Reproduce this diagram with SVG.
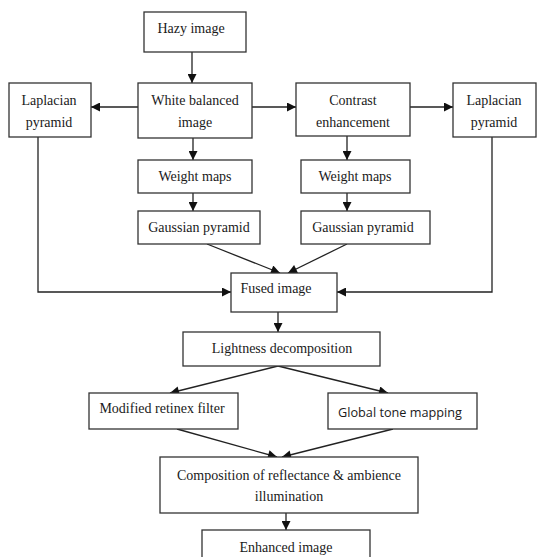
<svg xmlns="http://www.w3.org/2000/svg" width="537" height="557" viewBox="0 0 537 557">
<style>
.box{fill:#fff;stroke:#333;stroke-width:1.3}
.t{font-family:"Liberation Serif","Times New Roman",serif;font-size:14px;fill:#1a1a1a;text-anchor:middle}
.s{font-family:"Open Sans","Noto Sans",sans-serif;font-size:13px;fill:#1a1a1a;text-anchor:middle}
.c{fill:none;stroke:#222;stroke-width:1.3}
</style>
<defs>
<marker id="ah" viewBox="0 0 10 10" refX="10" refY="5" markerWidth="10" markerHeight="9" markerUnits="userSpaceOnUse" orient="auto">
<path d="M0,0 L10,5 L0,10 z" fill="#111"/>
</marker>
</defs>
<rect width="537" height="557" fill="#fff"/>
<g id="connectors">
<line class="c" x1="192" y1="52" x2="192" y2="83" marker-end="url(#ah)"/>
<line class="c" x1="138" y1="107" x2="91" y2="107" marker-end="url(#ah)"/>
<line class="c" x1="252" y1="107" x2="296" y2="107" marker-end="url(#ah)"/>
<line class="c" x1="410" y1="107" x2="453" y2="107" marker-end="url(#ah)"/>
<line class="c" x1="193" y1="138" x2="193" y2="160" marker-end="url(#ah)"/>
<line class="c" x1="347" y1="136" x2="347" y2="160" marker-end="url(#ah)"/>
<line class="c" x1="193" y1="193" x2="193" y2="211" marker-end="url(#ah)"/>
<line class="c" x1="347" y1="193" x2="347" y2="211" marker-end="url(#ah)"/>
<polyline class="c" points="38,137 38,292 231,292" marker-end="url(#ah)"/>
<polyline class="c" points="492,137 492,292 337,292" marker-end="url(#ah)"/>
<line class="c" x1="207" y1="244" x2="280" y2="273" marker-end="url(#ah)"/>
<line class="c" x1="347" y1="244" x2="288" y2="273" marker-end="url(#ah)"/>
<line class="c" x1="278" y1="312" x2="278" y2="332" marker-end="url(#ah)"/>
<line class="c" x1="278" y1="366" x2="170" y2="393" marker-end="url(#ah)"/>
<line class="c" x1="278" y1="366" x2="388" y2="393" marker-end="url(#ah)"/>
<line class="c" x1="177" y1="429" x2="277" y2="457" marker-end="url(#ah)"/>
<line class="c" x1="393" y1="429" x2="282" y2="457" marker-end="url(#ah)"/>
<line class="c" x1="286" y1="513" x2="286" y2="530" marker-end="url(#ah)"/>
</g>
<g id="hazy"><rect class="box" x="144" y="12" width="102" height="40"/><text class="t" x="191" y="33">Hazy image</text></g>
<g id="wb"><rect class="box" x="138" y="83" width="114" height="55"/><text class="t" x="195" y="105">White balanced</text><text class="t" x="195" y="127">image</text></g>
<g id="lapL"><rect class="box" x="9" y="83" width="82" height="54"/><text class="t" x="49" y="105">Laplacian</text><text class="t" x="49" y="127">pyramid</text></g>
<g id="contrast"><rect class="box" x="296" y="83" width="114" height="53"/><text class="t" x="353" y="105">Contrast</text><text class="t" x="353" y="127">enhancement</text></g>
<g id="lapR"><rect class="box" x="453" y="83" width="83" height="54"/><text class="t" x="494" y="105">Laplacian</text><text class="t" x="494" y="127">pyramid</text></g>
<g id="wmL"><rect class="box" x="138" y="160" width="114" height="33"/><text class="t" x="195" y="181">Weight maps</text></g>
<g id="wmR"><rect class="box" x="301" y="160" width="109" height="33"/><text class="t" x="355" y="181">Weight maps</text></g>
<g id="gpL"><rect class="box" x="138" y="211" width="122" height="33"/><text class="t" x="199" y="232">Gaussian pyramid</text></g>
<g id="gpR"><rect class="box" x="301" y="211" width="129" height="33"/><text class="t" x="363" y="232">Gaussian pyramid</text></g>
<g id="fused"><rect class="box" x="231" y="273" width="106" height="39"/><text class="t" x="276" y="293">Fused image</text></g>
<g id="lightness"><rect class="box" x="183" y="332" width="197" height="34"/><text class="t" x="282" y="353">Lightness decomposition</text></g>
<g id="retinex"><rect class="box" x="89" y="393" width="149" height="36"/><text class="t" x="162" y="413">Modified retinex filter</text></g>
<g id="global"><rect class="box" x="328" y="393" width="149" height="36"/><text class="s" x="400" y="417" textLength="124" lengthAdjust="spacingAndGlyphs">Global tone mapping</text></g>
<g id="composition"><rect class="box" x="160" y="457" width="258" height="56"/><text class="t" x="289" y="480">Composition of reflectance &amp; ambience</text><text class="t" x="289" y="501">illumination</text></g>
<g id="enhanced"><rect class="box" x="202" y="530" width="168" height="30"/><text class="t" x="286" y="552">Enhanced image</text></g>
</svg>
